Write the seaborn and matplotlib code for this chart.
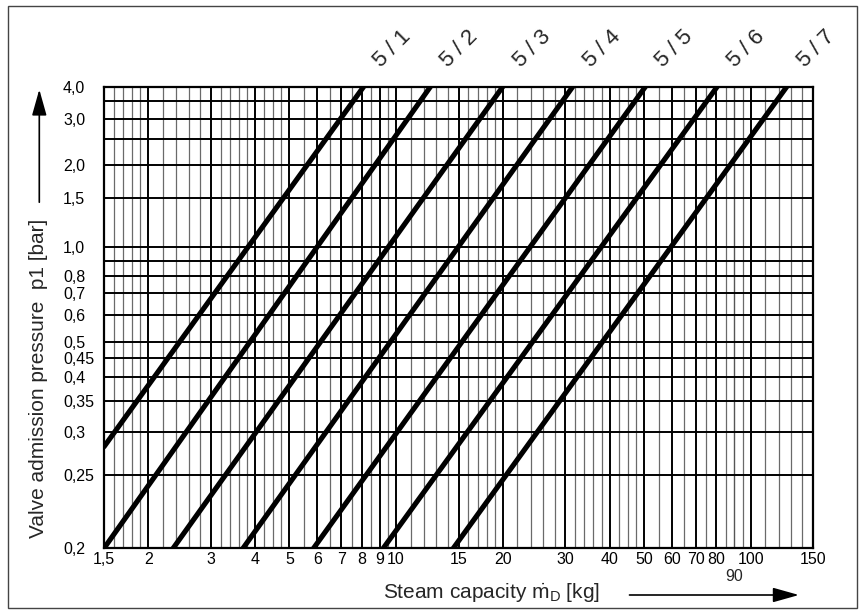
import numpy as np
import pandas as pd
import matplotlib
matplotlib.use("Agg")
import matplotlib.pyplot as plt
import seaborn as sns
from matplotlib.patches import Rectangle, FancyArrowPatch
from matplotlib.ticker import NullFormatter, NullLocator
from matplotlib import font_manager

# ---------------- data ----------------
valves = ["5/1", "5/2", "5/3", "5/4", "5/5", "5/6", "5/7"]
valve_labels = ["5 / 1", "5 / 2", "5 / 3", "5 / 4", "5 / 5", "5 / 6", "5 / 7"]
cap_start = [1.5, 1.5, 2.35, 3.7, 5.85, 9.2, 14.5]      # kg at start point
p_start = [0.28, 0.2, 0.2, 0.2, 0.2, 0.2, 0.2]          # bar
cap_end = [8.1, 12.5, 20.0, 31.5, 50.5, 80.5, 126.5]    # kg at 4,0 bar
p_end = [4.0, 4.0, 4.0, 4.0, 4.0, 4.0, 4.0]

x_major = [1.5, 2, 3, 4, 5, 6, 7, 8, 9, 10, 15, 20, 30, 40, 50, 60, 70, 80, 90, 100, 150]
x_major_labels = ["1,5", "2", "3", "4", "5", "6", "7", "8", "9", "10", "15", "20",
                  "30", "40", "50", "60", "70", "80", "", "100", "150"]
x_low_label = "90"   # drawn lower, below its long tick
x_minor = [1.6, 1.7, 1.8, 1.9, 2.2, 2.4, 2.6, 2.8, 3.2, 3.4, 3.6, 3.8,
           4.25, 4.5, 4.75, 5.5, 6.5, 7.5, 8.5, 9.5, 11, 12, 13, 14, 16, 17, 18, 19,
           22, 24, 26, 28, 32, 34, 36, 38, 42.5, 45, 47.5, 55, 65, 75, 85, 95,
           110, 120, 130, 140]
y_ticks = [0.2, 0.25, 0.3, 0.35, 0.4, 0.45, 0.5, 0.6, 0.7, 0.8, 0.9, 1.0,
           1.5, 2.0, 2.5, 3.0, 3.5, 4.0]
y_labels = ["0,2", "0,25", "0,3", "0,35", "0,4", "0,45", "0,5", "0,6", "0,7", "0,8", "",
            "1,0", "1,5", "2,0", "", "3,0", "", "4,0"]

P_OFFSET = 0.15  # pressure scale of the diagram: log(p1 - 0,15)

# ---------------- style ----------------
sns.set_theme(style="white")
names = {f.name for f in font_manager.fontManager.ttflist}
NARROW = "Liberation Sans Narrow" if "Liberation Sans Narrow" in names else "Liberation Sans"
plt.rcParams["font.family"] = ["Liberation Sans", "DejaVu Sans"]
plt.rcParams["mathtext.fontset"] = "custom"
plt.rcParams["mathtext.rm"] = NARROW
plt.rcParams["mathtext.it"] = NARROW

W, H = 863, 615
fig = plt.figure(figsize=(W / 100, H / 100), dpi=100)
fig.patch.set_facecolor("white")
ax_l, ax_r, ax_t, ax_b = 104, 813, 86.7, 548.3
ax = fig.add_axes([ax_l / W, 1 - ax_b / H, (ax_r - ax_l) / W, (ax_b - ax_t) / H])
ax.set_facecolor("white")


def fwd(p):
    p = np.asarray(p, dtype=float)
    return np.log10(np.maximum(p - P_OFFSET, 1e-6))


def inv(v):
    return 10 ** np.asarray(v, dtype=float) + P_OFFSET


ax.set_xscale("log")
ax.set_yscale("function", functions=(fwd, inv))

rows = []
for v, cs, ps, ce, pe in zip(valves, cap_start, p_start, cap_end, p_end):
    rows.append(dict(valve=v, cap=cs, p=ps))
    rows.append(dict(valve=v, cap=ce, p=pe))
df = pd.DataFrame(rows)

sns.lineplot(data=df, x="cap", y="p", units="valve", estimator=None, sort=False,
             color="black", lw=3.7, legend=False, ax=ax, zorder=4)

ax.set_xlim(1.5, 150)
ax.set_ylim(0.2, 4.0)
ax.set_xlabel("")
ax.set_ylabel("")

ax.set_xticks(x_major)
ax.set_xticklabels(x_major_labels)
ax.set_xticks(x_minor, minor=True)
ax.xaxis.set_minor_formatter(NullFormatter())
ax.set_yticks(y_ticks)
ax.set_yticklabels(y_labels)
ax.yaxis.set_minor_locator(NullLocator())

ax.tick_params(which="both", length=0)
ax.tick_params(axis="x", which="major", pad=2.5, labelsize=11.5, colors="black")
ax.tick_params(axis="y", which="major", pad=29.5, labelsize=11.5, colors="black")
for lab in ax.get_yticklabels():
    lab.set_horizontalalignment("left")

ax.set_axisbelow(True)
ax.grid(which="major", axis="both", color="black", lw=1.4)
ax.grid(which="minor", axis="x", color="#6a6a6a", lw=0.9)

# the 90 tick is drawn longer with its label below
t90 = ax.xaxis.get_major_ticks()[x_major.index(90)]
t90.tick1line.set_markersize(15)
t90.tick1line.set_markeredgewidth(0.9)
t90.tick1line.set_color("#555555")
t90.gridline.set_color("#555555")
t90.gridline.set_linewidth(1.0)
ax.annotate(x_low_label, xy=(90, 0), xycoords=("data", "axes fraction"),
            xytext=(0, -20.5), textcoords="offset points", ha="center", va="center",
            fontsize=11.5, annotation_clip=False)

for s in ax.spines.values():
    s.set_color("black")
    s.set_linewidth(1.6)
    s.set_visible(True)

# valve labels above line ends
for lab, ce, pe in zip(valve_labels, cap_end, p_end):
    ax.annotate(lab, xy=(ce, pe), xytext=(21, 27), textcoords="offset points",
                ha="center", va="center", rotation=45, fontsize=16,
                annotation_clip=False)

# axis titles with arrows
fig.text(39 / W, 1 - 378.5 / H, "Valve admission pressure  p1 [bar]", rotation=90,
         ha="center", va="center", fontsize=15, family=[NARROW, "DejaVu Sans"])
fig.text(491.5 / W, 1 - 592 / H, r"Steam capacity $\dot{\mathrm{m}}_{\mathrm{D}}$ [kg]",
         ha="center", va="center", fontsize=15, family=[NARROW, "DejaVu Sans"])

arrow_style = "-|>,head_length=1.6,head_width=0.45"
fig.add_artist(FancyArrowPatch(
    (39.3 / W, 1 - 205 / H), (39.3 / W, 1 - 86.7 / H), transform=fig.transFigure,
    arrowstyle=arrow_style, mutation_scale=10, lw=1.2, color="black"))
fig.add_artist(FancyArrowPatch(
    (626.7 / W, 1 - 595 / H), (801.7 / W, 1 - 595 / H), transform=fig.transFigure,
    arrowstyle=arrow_style, mutation_scale=10, lw=1.2, color="black"))

# outer frame
fig.add_artist(Rectangle((8.3 / W, 1 - 607.5 / H), (857 - 8.3) / W, (607.5 - 6) / H,
                         transform=fig.transFigure, fill=False, ec="#444444", lw=1.0))

fig.savefig("out.png", dpi=100, facecolor="white")
